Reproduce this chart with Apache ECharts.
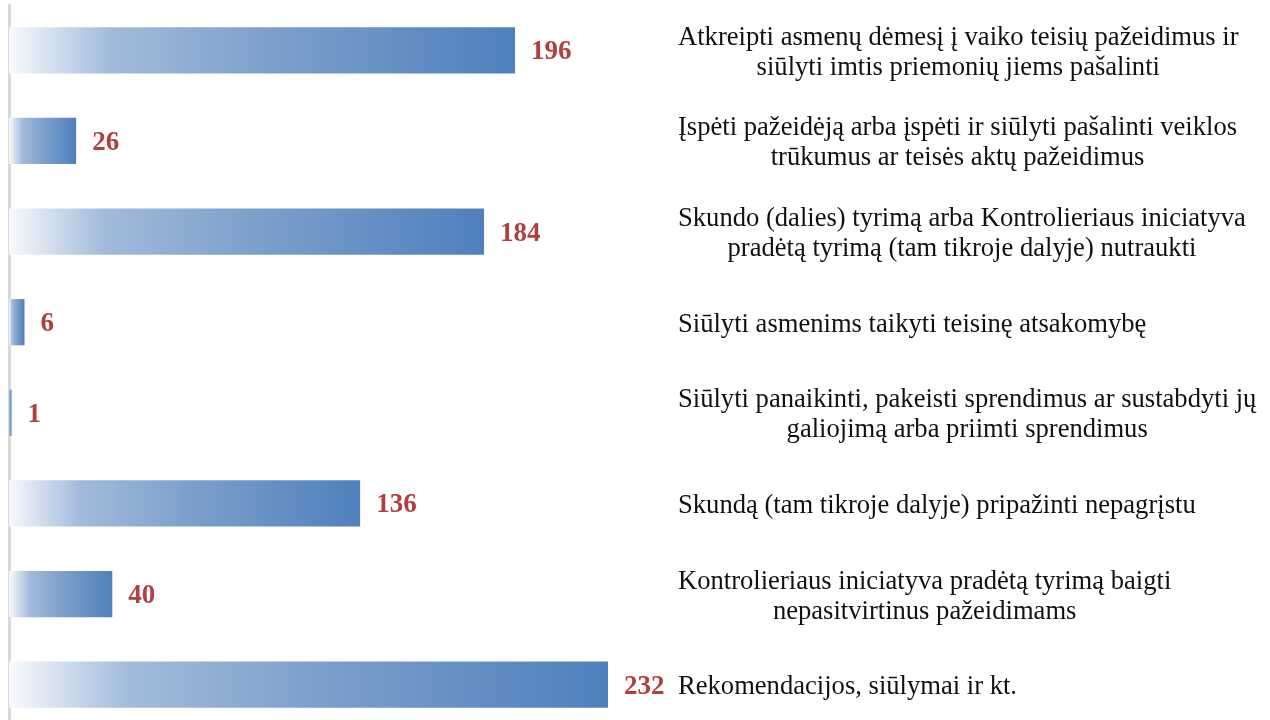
<!DOCTYPE html>
<html>
<head>
<meta charset="utf-8">
<script src="https://cdn.jsdelivr.net/npm/echarts@6/dist/echarts.min.js"></script>
<style>
  html, body { margin: 0; padding: 0; background: #fff; }
  #chart { width: 1270px; height: 720px; }
</style>
</head>
<body>
<div id="chart"></div>
<script>
const categories = [
  'Atkreipti asmenų dėmesį į vaiko teisių pažeidimus ir\nsiūlyti imtis priemonių jiems pašalinti',
  'Įspėti pažeidėją arba įspėti ir siūlyti pašalinti veiklos\ntrūkumus ar teisės aktų pažeidimus',
  'Skundo (dalies) tyrimą arba Kontrolieriaus iniciatyva\npradėtą tyrimą (tam tikroje dalyje) nutraukti',
  'Siūlyti asmenims taikyti teisinę atsakomybę',
  'Siūlyti panaikinti, pakeisti sprendimus ar sustabdyti jų\ngaliojimą arba priimti sprendimus',
  'Skundą (tam tikroje dalyje) pripažinti nepagrįstu',
  'Kontrolieriaus iniciatyva pradėtą tyrimą baigti\nnepasitvirtinus pažeidimams',
  'Rekomendacijos, siūlymai ir kt.'
];
const values = [196, 26, 184, 6, 1, 136, 40, 232];

const serif = '"Liberation Serif", "Times New Roman", serif';

const chart = echarts.init(document.getElementById('chart'));

const option = {
  animation: false,
  grid: { left: 9, top: 5, width: 599, height: 725, outerBoundsMode: 'none', containLabel: false },
  xAxis: {
    type: 'value',
    min: 0,
    max: 232,
    show: false
  },
  yAxis: [
    {
      type: 'category',
      data: categories,
      inverse: true,
      position: 'left',
      axisLine: { show: true, lineStyle: { color: '#d9d9d9', width: 3 } },
      axisTick: { show: false },
      axisLabel: { show: false }
    },
    {
      type: 'category',
      data: categories,
      inverse: true,
      position: 'right',
      axisLine: { show: false },
      axisTick: { show: false },
      axisLabel: {
        interval: 0,
        margin: 70,
        align: 'left',
        padding: [5, 0, 0, 0],
        formatter: function (v) {
          return v.split('\n').map(function (s) { return '{c|' + s + '}'; }).join('\n');
        },
        rich: {
          c: {
            align: 'center',
            fontFamily: serif,
            fontSize: 26.6,
            lineHeight: 30,
            color: '#111'
          }
        }
      }
    }
  ],
  series: [
    {
      type: 'bar',
      data: values,
      barCategoryGap: '49%',
      itemStyle: {
        color: new echarts.graphic.LinearGradient(0, 0, 1, 0, [
          { offset: 0, color: '#f8fafd' },
          { offset: 0.2, color: '#a2bbdb' },
          { offset: 0.5, color: '#7ea1cc' },
          { offset: 1, color: '#4f80bd' }
        ])
      },
      label: {
        show: true,
        position: 'right',
        distance: 16,
        offset: [0, 2],
        fontFamily: serif,
        fontWeight: 'bold',
        fontSize: 27,
        color: '#b03f3f'
      }
    }
  ]
};

chart.setOption(option);
</script>
</body>
</html>
